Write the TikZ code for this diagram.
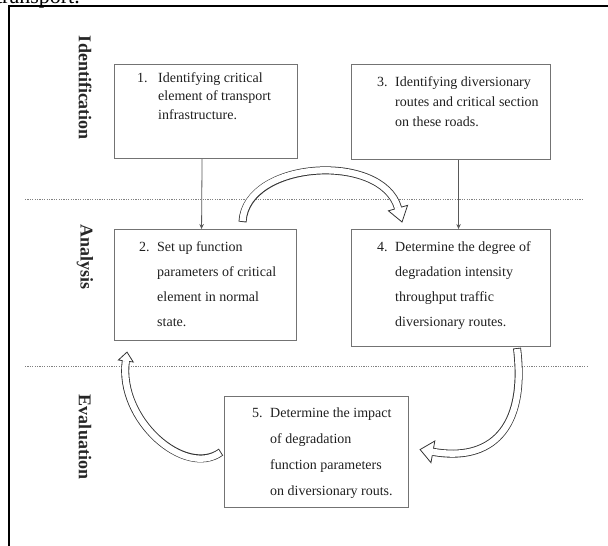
\documentclass[tikz,border=0pt]{standalone}
\usepackage{fontspec}
\setmainfont{Liberation Serif}
\usetikzlibrary{calc,arrows.meta}
\newcommand{\blockarrow}[6]{%
  \coordinate (baB) at ($(#4)!#5!(#3)$);
  \coordinate (baW1) at ($(baB)!#6!90:(#4)$);
  \coordinate (baW2) at ($(baB)!#6!-90:(#4)$);
  \draw[barrow outer] (#1) .. controls (#2) and (#3) .. (baB);
  \draw[barrow inner, shorten <=0.9pt] (#1) .. controls (#2) and (#3) .. (baB);
  \filldraw[barrow head] (baW1) -- (#4) -- (baW2) -- cycle;
  \draw[barrow inner] ($(baB)!-0.8pt!(#4)$) -- ($(baB)!1.6pt!(#4)$);
}
\begin{document}
\begin{tikzpicture}[x=1pt,y=-1pt,
  box/.style={draw=black!55, line width=1.1pt, rectangle, inner sep=0pt, anchor=north west},
  txt/.style={inner sep=0pt, align=left, text=black!88, font=\fontsize{14}{#1}\selectfont, anchor=north west},
  side/.style={inner sep=0pt, text=black!85, font=\fontsize{18}{20}\selectfont\bfseries, rotate=-90},
  conn/.style={draw=black!65, line width=0.8pt, -{Stealth[length=5pt,width=4.5pt]}},
  sep/.style={draw=black!50, line width=0.8pt, dash pattern=on 1.2pt off 1.2pt},
  frame/.style={draw=black, line width=1.5pt},
  barrow outer/.style={draw=black!80, line width=8pt},
  barrow inner/.style={draw=white, line width=6.3pt},
  barrow head/.style={fill=white, draw=black!80, line width=0.8pt, line join=miter},
]
\useasboundingbox (0,0) rectangle (608,546);
\begin{scope}
\clip (0,0) rectangle (608,546);
\node[inner sep=0pt, anchor=base east, font=\fontsize{22}{24}\selectfont] (cap) at (80,3.3) {transport.};
\end{scope}
% frame
\coordinate (ftl) at (9,6);
\coordinate (fbl) at (9,546);
\coordinate (ftr) at (608,6);
\draw[frame] (fbl) -- (ftl) -- (ftr);
% separators
\coordinate (s1a) at (25,199);
\coordinate (s1b) at (583,199);
\coordinate (s2a) at (25,366);
\coordinate (s2b) at (588,366);
\draw[sep] (s1a) -- (s1b);
\draw[sep] (s2a) -- (s2b);
% side labels
\node[side] (lid) at (85,88) {Identification};
\node[side] (lan) at (85,257) {Analysis};
\node[side] (lev) at (85,437) {Evaluation};
% boxes
\node[box, minimum width=183pt, minimum height=94pt] (b1) at (114,64) {};
\node[box, minimum width=199pt, minimum height=95pt] (b3) at (351,64) {};
\node[box, minimum width=182pt, minimum height=111pt] (b2) at (114,229) {};
\node[box, minimum width=199pt, minimum height=117pt] (b4) at (351,229) {};
\node[box, minimum width=184pt, minimum height=111pt] (b5) at (224,396) {};
% texts
\node[txt=18.5] (t1) at ($(b1.north west)+(23,8)$) {\makebox[21pt][l]{1.}Identifying critical\\\hspace*{21pt}element of transport\\\hspace*{21pt}infrastructure.};
\node[txt=20] (t3) at ($(b3.north west)+(26,12)$) {\makebox[18pt][l]{3.}Identifying diversionary\\\hspace*{18pt}routes and critical section\\\hspace*{18pt}on these roads.};
\node[txt=25] (t2) at ($(b2.north west)+(25,12)$) {\makebox[18pt][l]{2.}Set up function\\\hspace*{18pt}parameters of critical\\\hspace*{18pt}element in normal\\\hspace*{18pt}state.};
\node[txt=25] (t4) at ($(b4.north west)+(26,12)$) {\makebox[18pt][l]{4.}Determine the degree of\\\hspace*{18pt}degradation intensity\\\hspace*{18pt}throughput traffic\\\hspace*{18pt}diversionary routes.};
\node[txt=25.7] (t5) at ($(b5.north west)+(28,12)$) {\makebox[18pt][l]{5.}Determine the impact\\\hspace*{18pt}of degradation\\\hspace*{18pt}function parameters\\\hspace*{18pt}on diversionary routs.};
% thin connectors
\draw[conn] ([xshift=-4pt]b1.south) -- ([xshift=-4pt]b2.north);
\draw[conn] ([xshift=7.5pt]b3.south) -- ([xshift=7.5pt]b4.north);
% block arrows
\coordinate (a1s) at ($(b2.north west)+(128.5,-7)$);
\coordinate (a1c1) at (246,160);
\coordinate (a1c2) at (382,152);
\coordinate (a1t) at ($(b4.north west)+(51,-7)$);
\blockarrow{a1s}{a1c1}{a1c2}{a1t}{14.5pt}{10pt}
\coordinate (a2s) at ($(b4.south west)+(166,1)$);
\coordinate (a2c1) at (527,430);
\coordinate (a2c2) at (490,462);
\coordinate (a2t) at ($(b5.east)+(11,-2.5)$);
\blockarrow{a2s}{a2c1}{a2c2}{a2t}{13pt}{11pt}
\coordinate (a3s) at ($(b5.west)+(-3,0)$);
\coordinate (a3c1) at (185,478);
\coordinate (a3c2) at (118,420);
\coordinate (a3t) at ($(b2.south west)+(13,11)$);
\blockarrow{a3s}{a3c1}{a3c2}{a3t}{9pt}{7.5pt}
\end{tikzpicture}
\end{document}
